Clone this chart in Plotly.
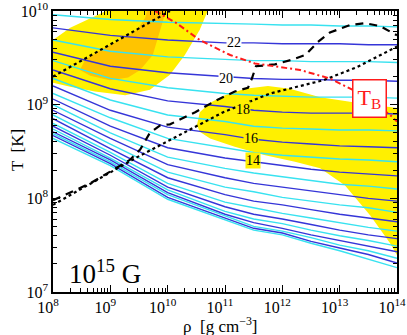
import plotly.graph_objects as go

# log10(rho) grid on which the contour lines were read
log_rho = [8, 9, 10, 11, 11.5, 12, 12.5, 13, 13.5, 14]

# log10(T) of each contour line (level -> values on log_rho)
contours = {
    23: [9.96, 9.91, 9.88, 9.87, 9.86, 9.85, 9.85, 9.84, 9.84, 9.83],
    22: [9.82, 9.74, 9.69, 9.66, 9.66, 9.65, 9.65, 9.65, 9.64, 9.64],
    21: [9.69, 9.57, 9.51, 9.48, 9.47, 9.47, 9.46, 9.46, 9.46, 9.45],
    20: [9.56, 9.41, 9.34, 9.30, 9.28, 9.27, 9.27, 9.26, 9.26, 9.25],
    19: [9.47, 9.28, 9.18, 9.12, 9.10, 9.09, 9.08, 9.08, 9.08, 9.07],
    18: [9.37, 9.17, 9.04, 8.98, 8.94, 8.92, 8.91, 8.91, 8.91, 8.90],
    17: [9.28, 9.05, 8.89, 8.82, 8.77, 8.75, 8.74, 8.73, 8.73, 8.72],
    16: [9.20, 8.94, 8.76, 8.68, 8.63, 8.60, 8.58, 8.56, 8.55, 8.54],
    15: [9.12, 8.86, 8.64, 8.54, 8.49, 8.46, 8.44, 8.42, 8.41, 8.39],
    14: [9.06, 8.77, 8.54, 8.43, 8.39, 8.35, 8.31, 8.28, 8.26, 8.24],
    13: [9.00, 8.70, 8.44, 8.32, 8.27, 8.23, 8.19, 8.15, 8.13, 8.10],
    12: [8.94, 8.64, 8.36, 8.22, 8.16, 8.12, 8.08, 8.04, 8.00, 7.97],
    11: [8.89, 8.58, 8.28, 8.12, 8.07, 8.01, 7.97, 7.93, 7.90, 7.85],
    10: [8.85, 8.53, 8.22, 8.04, 7.97, 7.93, 7.88, 7.83, 7.79, 7.75],
    9: [8.80, 8.49, 8.16, 7.96, 7.90, 7.84, 7.79, 7.74, 7.69, 7.65],
    8: [8.77, 8.46, 8.12, 7.91, 7.83, 7.78, 7.72, 7.66, 7.61, 7.57],
    7: [8.74, 8.43, 8.09, 7.86, 7.78, 7.73, 7.66, 7.60, 7.55, 7.49],
    6: [8.71, 8.41, 8.06, 7.83, 7.74, 7.68, 7.61, 7.55, 7.49, 7.43],
    5: [8.69, 8.39, 8.04, 7.81, 7.70, 7.65, 7.58, 7.50, 7.44, 7.36],
    4: [8.67, 8.37, 8.01, 7.79, 7.68, 7.63, 7.54, 7.47, 7.40, 7.31],
    3: [8.64, 8.35, 7.99, 7.77, 7.66, 7.61, 7.52, 7.44, 7.35, 7.26],
}

# contour label positions (log rho, log T)
label_text = ["22", "20", "18", "16", "14"]
label_lr = [11.16, 11.02, 11.31, 11.45, 11.49]
label_lt = [9.66, 9.28, 8.95, 8.64, 8.40]
label_bg = ["white", "white", "#fff000", "#fff000", "#fff000"]

# shaded regions (log rho, log T)
upper_yellow_lr = [7.77, 7.95, 8.30, 8.82, 9.34, 9.87, 10.56, 10.74, 10.56, 10.30, 10.04, 9.69, 9.26, 8.73, 8.30, 7.95, 7.77]
upper_yellow_lt = [9.48, 9.67, 9.82, 9.97, 10.12, 10.22, 10.22, 10.06, 9.80, 9.53, 9.32, 9.16, 9.10, 9.14, 9.19, 9.24, 9.32]
orange_lr = [8.47, 8.56, 8.82, 9.17, 9.47, 9.61, 9.69, 10.04, 9.95, 9.87, 9.74, 9.52, 9.31, 8.99, 8.65]
orange_lt = [9.37, 9.48, 9.58, 9.69, 9.80, 9.93, 10.12, 10.12, 9.96, 9.80, 9.53, 9.37, 9.29, 9.26, 9.31]
lower_yellow_lr = [10.51, 10.56, 10.74, 11.0, 11.35, 11.75, 12.13, 12.66, 13.18, 13.70, 14.05,
                   14.05, 13.88, 13.53, 13.09, 12.66, 12.22, 11.70, 11.17, 10.74, 10.56]
lower_yellow_lt = [8.78, 8.92, 9.02, 9.10, 9.17, 9.20, 9.17, 9.08, 9.03, 8.99, 8.96,
                   7.34, 7.52, 7.82, 8.14, 8.32, 8.39, 8.46, 8.55, 8.64, 8.71]

# black dotted / dashed curves and red T_B curve
dot_upper_lr = [8.0, 10.04]
dot_upper_lt = [9.30, 10.0]
dot_lower_lr = [8.0, 9.47, 10.97, 11.79, 12.71, 13.30, 14.0]
dot_lower_lt = [7.93, 8.44, 8.92, 9.12, 9.26, 9.40, 9.62]
dash_lr = [8.0, 8.65, 9.34, 9.52, 9.69, 9.87, 10.04, 10.22, 10.48, 10.83, 11.17, 11.40,
           11.47, 11.54, 11.87, 12.17, 12.40, 12.62, 12.83, 13.18, 13.44, 13.70, 14.0]
dash_lt = [7.98, 8.16, 8.41, 8.52, 8.70, 8.78, 8.79, 8.84, 8.92, 9.04, 9.14, 9.18,
           9.28, 9.41, 9.43, 9.48, 9.53, 9.67, 9.77, 9.85, 9.87, 9.84, 9.74]
tb_lr = [9.78, 10.13, 10.56, 11.09, 11.52, 11.87, 12.31, 12.83, 13.22, 13.53, 13.88, 14.0]
tb_lt = [10.0, 9.88, 9.69, 9.53, 9.44, 9.41, 9.37, 9.28, 9.16, 9.05, 8.89, 8.82]

x_ticks = [8, 9, 10, 11, 12, 13, 14]
y_ticks = [7, 8, 9, 10]
minor_mult = [2, 3, 4, 5, 6, 7, 8, 9]

BLUE = "#3535d8"
CYAN = "#38e2f0"
YELLOW = "#fff000"
ORANGE = "#ffc400"
FONT = "Liberation Serif"


def pw(values):
    return [10 ** v for v in values]


fig = go.Figure()

for lr, lt, color in [
    (upper_yellow_lr, upper_yellow_lt, YELLOW),
    (orange_lr, orange_lt, ORANGE),
    (lower_yellow_lr, lower_yellow_lt, YELLOW),
]:
    fig.add_trace(go.Scatter(x=pw(lr), y=pw(lt), mode="lines", fill="toself",
                             fillcolor=color, line=dict(width=0), hoverinfo="skip"))

for level, lt in contours.items():
    fig.add_trace(go.Scatter(x=pw(log_rho), y=pw(lt), mode="lines",
                             line=dict(color=BLUE if level % 2 == 0 else CYAN, width=1.4)))

fig.add_trace(go.Scatter(x=pw(dot_upper_lr), y=pw(dot_upper_lt), mode="lines",
                         line=dict(color="black", width=2.2, dash="dot")))
fig.add_trace(go.Scatter(x=pw(dot_lower_lr), y=pw(dot_lower_lt), mode="lines",
                         line=dict(color="black", width=2.2, dash="dot")))
fig.add_trace(go.Scatter(x=pw(dash_lr), y=pw(dash_lt), mode="lines",
                         line=dict(color="black", width=2.2, dash="8px,6px")))
fig.add_trace(go.Scatter(x=pw(tb_lr), y=pw(tb_lt), mode="lines",
                         line=dict(color="#ff1a1a", width=2, dash="6px,3px,2px,3px")))

annotations = []
for txt, lr, lt, bg in zip(label_text, label_lr, label_lt, label_bg):
    annotations.append(dict(x=lr, y=lt, text=txt, showarrow=False, bgcolor=bg,
                            borderpad=0, font=dict(family=FONT, size=14, color="black")))

annotations += [
    dict(x=13.52, y=9.07, text="T<sub>B</sub>", showarrow=False, bgcolor="white",
         bordercolor="#ff1a1a", borderwidth=1.5, borderpad=4,
         font=dict(family=FONT, size=22, color="#ff1a1a")),
    dict(x=8.24, y=7.21, xanchor="left", text="10<sup>15</sup> G", showarrow=False,
         font=dict(family=FONT, size=27, color="black")),
    dict(xref="paper", yref="paper", x=-0.105, y=0.505, xanchor="center", yanchor="middle",
         text="T  [K]", textangle=-90, showarrow=False,
         font=dict(family=FONT, size=17, color="black")),
    dict(xref="paper", yref="paper", x=0.488, y=-0.118, xanchor="center", yanchor="middle",
         text="ρ  [g cm<sup>−3</sup>]", showarrow=False,
         font=dict(family=FONT, size=17, color="black")),
]


def axis_style(ticks, shift):
    return dict(
        type="log", automargin=False, ticklabeloverflow="allow", ticklabelshift=shift,
        showline=True, linecolor="black", linewidth=1.5, mirror="allticks",
        ticks="inside", ticklen=7, tickcolor="black", tickwidth=1,
        tickvals=pw(ticks), ticktext=[f"10<sup>{v}</sup>" for v in ticks],
        minor=dict(ticks="inside", ticklen=4, tickcolor="black", showgrid=False,
                   tickmode="array",
                   tickvals=[m * 10 ** v for v in ticks[:-1] for m in minor_mult]),
        showgrid=False, zeroline=False,
        tickfont=dict(family=FONT, size=16, color="black"),
    )


fig.update_layout(
    width=407, height=335,
    margin=dict(l=53, r=10, t=11, b=43),
    paper_bgcolor="white", plot_bgcolor="white",
    showlegend=False,
    annotations=annotations,
    xaxis=dict(range=[8, 14], **axis_style(x_ticks, -5)),
    yaxis=dict(range=[7, 10], **axis_style(y_ticks, 0)),
)

# drop the default page margin so the figure sits flush with the window
fig.write_html("out.html", config={"displayModeBar": False},
               post_script="document.body.style.margin = '0';")
